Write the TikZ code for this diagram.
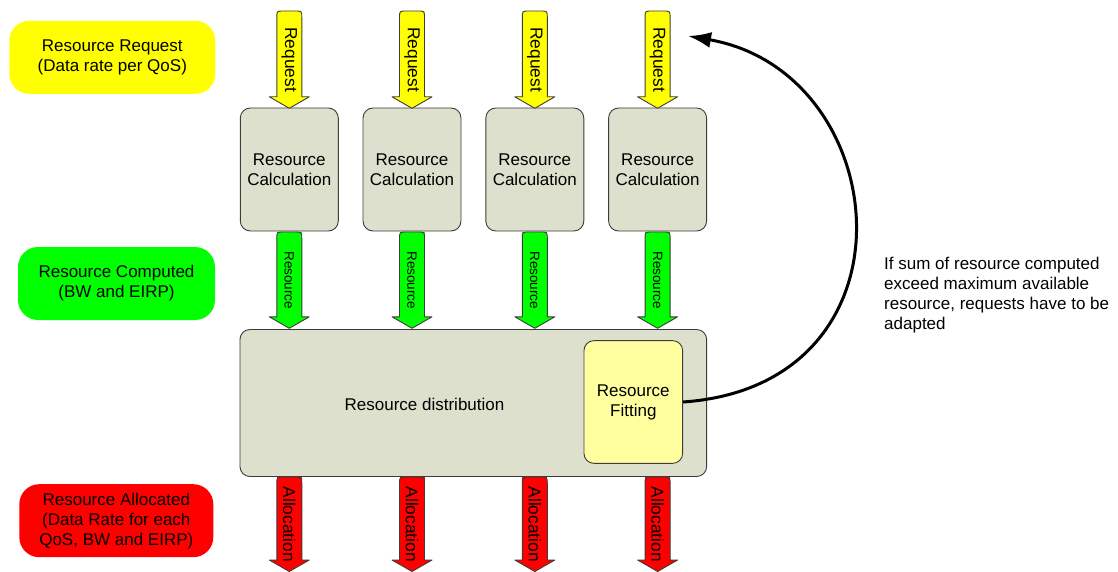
\documentclass[tikz,border=0pt]{standalone}
\usepackage{fontspec}
\setmainfont{Liberation Sans}
\usetikzlibrary{arrows.meta}

\definecolor{boxfill}{RGB}{221,224,204}
\definecolor{fitfill}{RGB}{255,255,160}
\definecolor{edge}{RGB}{60,60,60}
\definecolor{reqyellow}{RGB}{255,255,0}
\definecolor{resgreen}{RGB}{0,255,0}
\definecolor{allocred}{RGB}{255,0,0}

% Block arrow with rounded top corners: name, x centre, y top, y tip, fill, label
\newcommand\FlowArrow[6]{%
  \fill[#5] (#2-12.5,#3) rectangle (#2+12.5,#3+9);
  \filldraw[fill=#5, draw=edge, line width=0.9pt, line join=round]
    (#2-12.5,#4-11.5) -- (#2-12.5,#3+7) .. controls (#2-12.5,#3) .. (#2-5.5,#3)
    -- (#2+5.5,#3) .. controls (#2+12.5,#3) .. (#2+12.5,#3+7)
    -- (#2+12.5,#4-11.5) -- (#2+20,#4-11.5) -- (#2,#4) -- (#2-20,#4-11.5) -- cycle;
  \node[arrowlabel] (#1) at (#2,{(#3+#4)/2}) {#6};
}

\tikzset{
  txt/.style={font=\fontsize{17}{20}\selectfont, align=center, inner sep=0pt},
  arrowlabel/.style={txt, font=\fontsize{17.3}{20}\selectfont, rotate=-90},
  calcbox/.style={txt, draw=edge, line width=0.9pt, fill=boxfill, rounded corners=10pt,
    minimum width=98pt, minimum height=123pt},
  legendbox/.style={txt, rounded corners=20pt, minimum height=73pt},
  feedback/.style={line width=3pt, -{Latex[length=23pt, width=16pt]}},
}

\begin{document}
\begin{tikzpicture}[x=1pt, y=-1pt]
\useasboundingbox (0,0) rectangle (1118,572);

% legend on the left
\node[legendbox, fill=reqyellow, minimum width=206pt] (lreq) at (112.3,57.3)
  {Resource Request\\(Data rate per QoS)};
\node[legendbox, fill=resgreen, minimum width=197pt] (lres) at (116.5,283.5)
  {Resource Computed\\(BW and EIRP)};
\node[legendbox, fill=allocred, minimum width=194pt] (lalloc) at (116.3,520.7)
  {Resource Allocated\\(Data Rate for each\\QoS, BW and EIRP)};

% calculation blocks
\node[calcbox] (calc1) at (289.3,169.5) {Resource\\Calculation};
\node[calcbox] (calc2) at (412.0,169.5) {Resource\\Calculation};
\node[calcbox] (calc3) at (534.8,169.5) {Resource\\Calculation};
\node[calcbox] (calc4) at (657.6,169.5) {Resource\\Calculation};

% distribution block with fitting stage
\node[calcbox, minimum width=466.7pt, minimum height=147pt] (dist) at (473.3,403) {};
\node[txt] (distlabel) at (424.5,404) {Resource distribution};
\node[calcbox, fill=fitfill, minimum width=98.7pt, minimum height=122.7pt] (fit) at (633.3,402)
  {Resource\\Fitting};

% request arrows
\FlowArrow{req1}{289.3}{11}{108.3}{reqyellow}{Request}
\FlowArrow{req2}{412.0}{11}{108.3}{reqyellow}{Request}
\FlowArrow{req3}{534.8}{11}{108.3}{reqyellow}{Request}
\FlowArrow{req4}{657.6}{11}{108.3}{reqyellow}{Request}

% computed resource arrows
\FlowArrow{res1}{289.3}{232}{328.3}{resgreen}{\fontsize{13.5}{16}\selectfont Resource}
\FlowArrow{res2}{412.0}{232}{328.3}{resgreen}{\fontsize{13.5}{16}\selectfont Resource}
\FlowArrow{res3}{534.8}{232}{328.3}{resgreen}{\fontsize{13.5}{16}\selectfont Resource}
\FlowArrow{res4}{657.6}{232}{328.3}{resgreen}{\fontsize{13.5}{16}\selectfont Resource}

% allocation arrows
\FlowArrow{alloc1}{289.3}{477}{571.5}{allocred}{Allocation}
\FlowArrow{alloc2}{412.0}{477}{571.5}{allocred}{Allocation}
\FlowArrow{alloc3}{534.8}{477}{571.5}{allocred}{Allocation}
\FlowArrow{alloc4}{657.6}{477}{571.5}{allocred}{Allocation}

% feedback loop towards the requests
\coordinate (ret) at (688,36);
\draw[feedback] (fit.east) .. controls (925,385) and (895,72) .. (ret);

\node[txt, align=left, anchor=north west] (note) at (884,257)
  {If sum of resource computed\\exceed maximum available\\resource, requests have to be\\adapted};
\end{tikzpicture}
\end{document}
